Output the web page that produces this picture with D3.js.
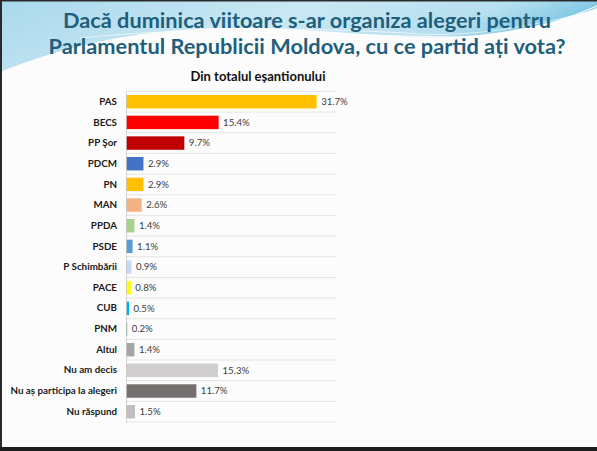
<!DOCTYPE html>
<html>
<head>
<meta charset="utf-8">
<script src="https://cdn.jsdelivr.net/npm/d3@7"></script>
<style>
  html, body { margin: 0; padding: 0; background: #fff; }
  svg { display: block; }
</style>
</head>
<body>
<svg id="chart" width="597" height="451"></svg>
<script>
const titleLines = ["Dacă duminica viitoare s-ar organiza alegeri pentru", "Parlamentul Republicii Moldova, cu ce partid ați vota?"];
const subtitle = "Din totalul eșantionului";
const categories = ["PAS", "BECS", "PP Şor", "PDCM", "PN", "MAN", "PPDA", "PSDE", "P Schimbării", "PACE", "CUB", "PNM", "Altul", "Nu am decis", "Nu aș participa la alegeri", "Nu răspund"];
const values = [31.7, 15.4, 9.7, 2.9, 2.9, 2.6, 1.4, 1.1, 0.9, 0.8, 0.5, 0.2, 1.4, 15.3, 11.7, 1.5];
const colors = ["#FFC000", "#FF0000", "#C00000", "#4472C4", "#FFC000", "#F4B183", "#A9D18E", "#5B9BD5", "#C5D9F1", "#FFFF00", "#00B0F0", "#3FA58A", "#A6A6A6", "#D0CECE", "#767171", "#BFBFBF"];
const xDomain = [0, 35];

const svg = d3.select("#chart");
const W = 597, H = 451;

// Slide background
svg.append("rect").attr("width", W).attr("height", H).attr("fill", "#fcfcfc");

const defs = svg.append("defs");
const g1 = defs.append("linearGradient").attr("id", "sky").attr("x1", 0).attr("y1", 0).attr("x2", 1).attr("y2", 0.3);
g1.append("stop").attr("offset", 0).attr("stop-color", "#a9d8ec");
g1.append("stop").attr("offset", 0.5).attr("stop-color", "#c9e8f4");
g1.append("stop").attr("offset", 0.8).attr("stop-color", "#b6dff0");
g1.append("stop").attr("offset", 1).attr("stop-color", "#6cc0df");

svg.append("path")
  .attr("d", "M0,0 H597 V8 C570,18 530,30 470,36 C400,42 320,26 220,28 C130,30 60,48 0,72 Z")
  .attr("fill", "url(#sky)");
svg.append("path")
  .attr("d", "M0,80 C60,52 140,36 240,33 C340,30 420,40 480,36 C530,32 570,18 597,6")
  .attr("fill", "none").attr("stroke", "#ffffff").attr("stroke-width", 1.2).attr("opacity", 0.9);
svg.append("path")
  .attr("d", "M80,38 C200,26 330,28 420,34 C480,37 540,24 597,10")
  .attr("fill", "none").attr("stroke", "#ffffff").attr("stroke-width", 0.8).attr("opacity", 0.8);

// Frame
svg.append("rect").attr("x", 0).attr("y", 0).attr("width", W).attr("height", 1.5).attr("fill", "#2a2a2a");
svg.append("rect").attr("x", 0).attr("y", 0).attr("width", 2).attr("height", H).attr("fill", "#2a2a2a");
svg.append("rect").attr("x", 0).attr("y", 447).attr("width", W).attr("height", 4).attr("fill", "#1c1c1c");

// Title
const titleWidths = [488, 517];
svg.append("g").selectAll("text").data(titleLines).join("text")
  .attr("x", 307).attr("y", (d, i) => 27.5 + i * 26.5)
  .attr("text-anchor", "middle")
  .attr("font-family", "Lato, 'Open Sans', sans-serif")
  .attr("font-weight", "bold")
  .attr("font-size", 21)
  .attr("textLength", (d, i) => titleWidths[i])
  .attr("lengthAdjust", "spacingAndGlyphs")
  .attr("fill", "#1f5f7c")
  .text(d => d);

svg.append("text")
  .attr("x", 258).attr("y", 81)
  .attr("text-anchor", "middle")
  .attr("font-family", "Lato, 'Open Sans', sans-serif")
  .attr("font-weight", "bold")
  .attr("font-size", 13)
  .attr("fill", "#111")
  .text(subtitle);

// Scales
const x = d3.scaleLinear().domain(xDomain).range([126, 336.5]);
const y = d3.scaleBand().domain(categories).range([91.4, 422]).paddingInner(0.35).paddingOuter(0.175);
const step = y.step();
const boundaries = d3.range(categories.length + 1).map(i => y.range()[0] + i * step);

// Gridlines at band boundaries
svg.append("g").selectAll("line").data(boundaries).join("line")
  .attr("x1", x(0)).attr("x2", x(xDomain[1]))
  .attr("y1", d => d).attr("y2", d => d)
  .attr("stroke", "#dedede").attr("stroke-width", 0.8);

// Bars
svg.append("g").selectAll("rect").data(categories).join("rect")
  .attr("x", x(0))
  .attr("y", d => y(d))
  .attr("width", (d, i) => x(values[i]) - x(0))
  .attr("height", y.bandwidth())
  .attr("fill", (d, i) => colors[i]);

// Axis
const axis = svg.append("g").attr("transform", `translate(${x(0)},0)`)
  .call(d3.axisLeft(y).tickSize(0).tickSizeOuter(0).tickPadding(9));
axis.select(".domain").attr("stroke", "#c8c8c8").attr("stroke-width", 0.8);
axis.selectAll("text")
  .attr("font-family", "Lato, 'Open Sans', sans-serif")
  .attr("font-weight", "bold")
  .attr("font-size", 9.8)
  .attr("fill", "#1a1a1a");

// Value labels
svg.append("g").selectAll("text").data(categories).join("text")
  .attr("x", (d, i) => x(values[i]) + 4.5)
  .attr("y", d => y(d) + y.bandwidth() / 2)
  .attr("dy", "0.35em")
  .attr("font-family", "Lato, 'Open Sans', sans-serif")
  .attr("font-size", 9.6)
  .attr("fill", "#404040")
  .text((d, i) => values[i].toFixed(1) + "%");
</script>
</body>
</html>
